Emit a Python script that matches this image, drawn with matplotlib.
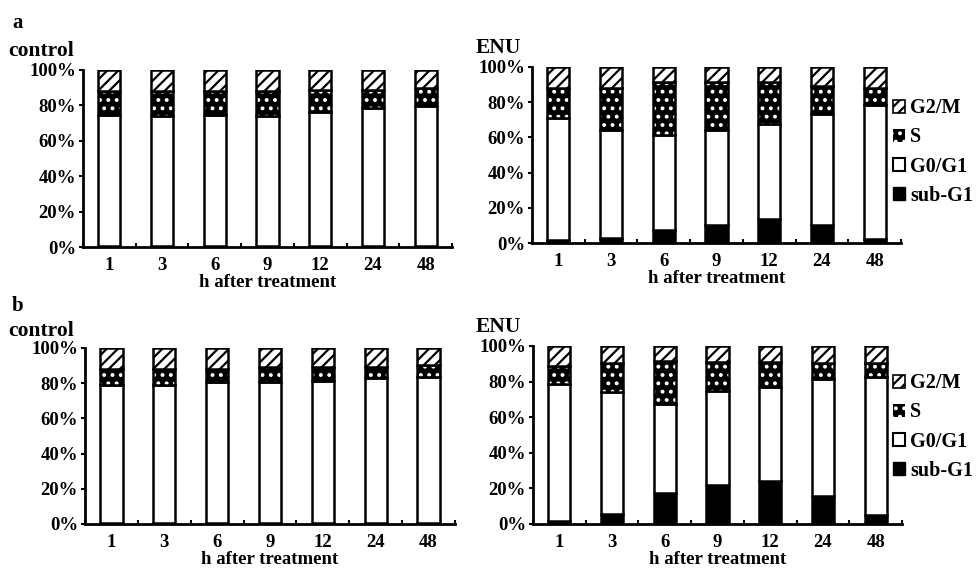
import matplotlib
matplotlib.use("Agg")
import matplotlib.pyplot as plt
from matplotlib.patches import Patch
import numpy as np

plt.rcParams['font.family'] = ['Liberation Serif', 'DejaVu Serif']
plt.rcParams['font.weight'] = 'bold'
plt.rcParams['axes.labelweight'] = 'bold'
plt.rcParams['hatch.linewidth'] = 1.6

# DATA (percent of cells, stacked bottom -> top: sub-G1, G0/G1, S, G2/M)
hours = ["1", "3", "6", "9", "12", "24", "48"]

# panel a, control
a_ctl_subg1 = [0.5, 0.5, 0.5, 0.5, 0.5, 0.5, 0.5]
a_ctl_g0g1 = [74.0, 73.5, 74.0, 73.5, 75.5, 78.2, 79.1]
a_ctl_s = [13.8, 14.0, 13.5, 14.0, 12.7, 10.0, 10.0]
# panel a, ENU
a_enu_subg1 = [1.9, 2.8, 7.2, 10.0, 13.4, 10.0, 2.3]
a_enu_g0g1 = [69.3, 61.2, 54.4, 54.4, 54.4, 63.5, 75.9]
a_enu_s = [17.1, 24.3, 29.9, 27.1, 23.7, 15.5, 10.1]
# panel b, control
b_ctl_subg1 = [0.5, 0.5, 0.5, 0.5, 0.5, 0.5, 0.5]
b_ctl_g0g1 = [78.7, 78.7, 80.2, 80.2, 80.6, 82.5, 82.9]
b_ctl_s = [9.1, 9.1, 7.6, 8.5, 8.1, 6.2, 6.8]
# panel b, ENU
b_enu_subg1 = [1.5, 5.6, 17.4, 22.0, 23.9, 16.0, 4.9]
b_enu_g0g1 = [77.2, 68.8, 50.1, 52.8, 52.9, 65.3, 77.9]
b_enu_s = [10.1, 15.9, 24.1, 16.4, 14.4, 9.0, 7.5]

px_w, px_h = 978, 570
fig = plt.figure(figsize=(px_w / 100, px_h / 100), dpi=100)


def make_axes(left, right, top, bottom):
    return fig.add_axes([left / px_w, 1 - bottom / px_h,
                         (right - left) / px_w, (bottom - top) / px_h])


def draw_panel(ax, subg1, g0g1, s):
    x = np.arange(len(hours))
    w = 0.42
    subg1 = np.array(subg1)
    g0g1 = np.array(g0g1)
    s = np.array(s)
    g2m = 100 - subg1 - g0g1 - s
    b1 = subg1
    b2 = b1 + g0g1
    b3 = b2 + s
    ax.bar(x, subg1, w, color="black", edgecolor="black", linewidth=1.8)
    ax.bar(x, g0g1, w, bottom=b1, color="white", edgecolor="black", linewidth=1.8)
    # S phase: black with white dots, outline drawn on top
    ax.bar(x, s, w, bottom=b2, color="black", edgecolor="white", linewidth=0, hatch="..")
    ax.bar(x, s, w, bottom=b2, fill=False, edgecolor="black", linewidth=1.8)
    ax.bar(x, g2m, w, bottom=b3, color="white", edgecolor="black", linewidth=1.8, hatch="///")

    ax.set_xlim(-0.5, len(hours) - 0.5)
    ax.set_ylim(0, 100)
    ax.set_yticks([0, 20, 40, 60, 80, 100])
    ax.set_yticklabels(["0%", "20%", "40%", "60%", "80%", "100%"])
    ax.set_xticks(x)
    ax.set_xticklabels(hours)
    ax.set_xticks(np.arange(-0.5, len(hours)), minor=True)
    ax.tick_params(axis="x", which="major", length=0, pad=7, labelsize=13.5)
    ax.tick_params(axis="x", which="minor", direction="in", length=3, width=1.5)
    ax.tick_params(axis="y", direction="out", length=3, width=1.5, pad=2, labelsize=13.5)
    for side in ["top", "right"]:
        ax.spines[side].set_visible(False)
    for side in ["left", "bottom"]:
        ax.spines[side].set_linewidth(2)
    ax.set_xlabel("h after treatment", fontsize=13.5, labelpad=0)


ax1 = make_axes(83, 452, 70, 247)
draw_panel(ax1, a_ctl_subg1, a_ctl_g0g1, a_ctl_s)
ax2 = make_axes(532, 901, 67, 243)
draw_panel(ax2, a_enu_subg1, a_enu_g0g1, a_enu_s)
ax3 = make_axes(85, 455, 348, 524)
draw_panel(ax3, b_ctl_subg1, b_ctl_g0g1, b_ctl_s)
ax4 = make_axes(533, 902, 346, 524)
draw_panel(ax4, b_enu_subg1, b_enu_g0g1, b_enu_s)

# panel letters and titles
fig.text(12 / px_w, 1 - 28 / px_h, "a", fontsize=15, va="baseline")
fig.text(8 / px_w, 1 - 56 / px_h, "control", fontsize=15.5, va="baseline")
fig.text(476 / px_w, 1 - 53 / px_h, "ENU", fontsize=15.5, va="baseline")
fig.text(12 / px_w, 1 - 311 / px_h, "b", fontsize=15, va="baseline")
fig.text(8 / px_w, 1 - 336 / px_h, "control", fontsize=15.5, va="baseline")
fig.text(476 / px_w, 1 - 332 / px_h, "ENU", fontsize=15.5, va="baseline")

handles = [
    Patch(facecolor="white", edgecolor="black", hatch="///", linewidth=1.2),
    Patch(facecolor="black", edgecolor="white", hatch="..", linewidth=0),
    Patch(facecolor="white", edgecolor="black", linewidth=1.5),
    Patch(facecolor="black", edgecolor="black"),
]
labels = ["G2/M", "S", "G0/G1", "sub-G1"]
for yc in [152, 427]:
    fig.legend(handles, labels, loc="center left",
               bbox_to_anchor=(893 / px_w, 1 - yc / px_h),
               frameon=False, fontsize=14.5, handlelength=0.6, handleheight=0.6,
               handletextpad=0.25, labelspacing=0.45, borderpad=0, borderaxespad=0)

fig.savefig("out.png", dpi=100)
